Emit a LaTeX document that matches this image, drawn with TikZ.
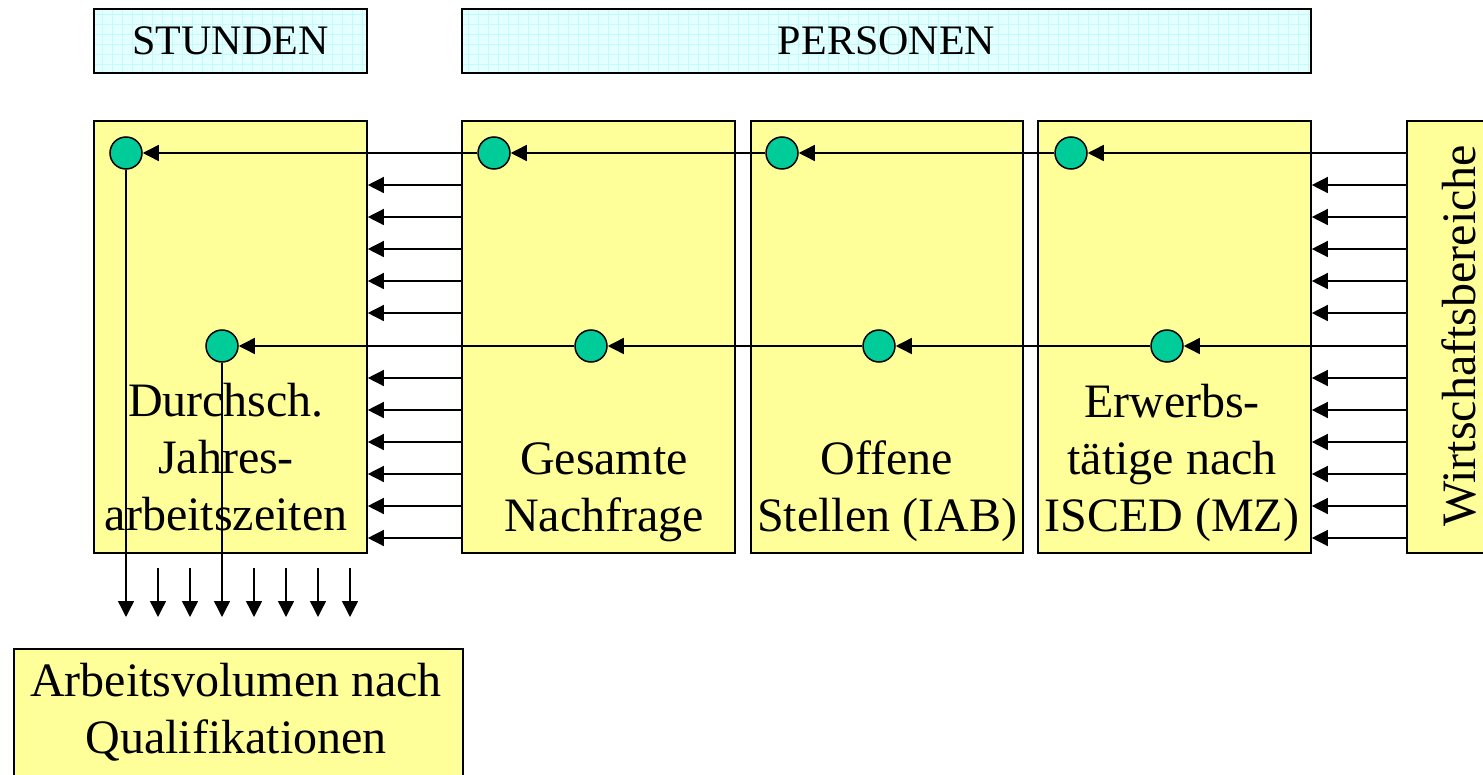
\documentclass[tikz,border=0pt]{standalone}
\usepackage{fontspec}
\setmainfont{Liberation Serif}
\usetikzlibrary{arrows.meta}
\definecolor{boxyellow}{HTML}{FFFF99}
\definecolor{dotgreen}{HTML}{00CC99}
\definecolor{headfill}{RGB}{228,255,255}
\definecolor{headgrid}{RGB}{195,250,250}
\begin{document}
\begin{tikzpicture}[x=1pt,y=-1pt,
  bigfont/.style={font=\fontsize{48}{57}\selectfont},
  headfont/.style={font=\fontsize{42}{50}\selectfont},
  ybox/.style={draw=black, line width=1.6pt, fill=boxyellow, inner sep=0pt, minimum height=432pt},
  hbox/.style={draw=black, line width=1.6pt, fill=headfill, inner sep=0pt, minimum height=64pt, headfont,
    path picture={\draw[headgrid, line width=0.6pt] (path picture bounding box.south west) grid[step=10pt] (path picture bounding box.north east);}},
  dot/.style={circle, draw=black, line width=1.5pt, fill=dotgreen, minimum size=32pt, inner sep=0pt},
  arr/.style={line width=1.4pt, -{Triangle[length=16pt,width=16pt]}},
  lbl/.style={bigfont, align=center, inner sep=0pt, anchor=base}
]
\useasboundingbox (0,0) rectangle (1483,775);

% header boxes
\node[hbox, minimum width=273pt] (hstd) at (230.5,41) {STUNDEN};
\node[hbox, minimum width=849pt] (hper) at (886.5,41) {PERSONEN};

% main boxes
\node[ybox, minimum width=273pt] (b1) at (230.5,337) {};
\node[ybox, minimum width=273pt] (b2) at (598.5,337) {};
\node[ybox, minimum width=272pt] (b3) at (887,337) {};
\node[ybox, minimum width=273pt] (b4) at (1174.5,337) {};
\node[ybox, minimum width=103pt] (b5) at (1458.5,337) {};
\node[ybox, minimum width=449pt, minimum height=151pt] (b6) at (238.5,724.5) {};

% box texts
\node[lbl] (t1) at (226,530) {Durchsch.\\Jahres-\\arbeitszeiten};
\node[lbl] (t2) at (604,531) {Gesamte\\Nachfrage};
\node[lbl] (t3) at (887,531) {Offene\\Stellen (IAB)};
\node[lbl] (t4) at (1172,531) {Erwerbs-\\tätige nach\\ISCED (MZ)};
\node[bigfont, inner sep=0pt, rotate=90] (t5) at (1458.5,336) {Wirtschaftsbereiche};
\node[lbl] (t6) at (236,753) {Arbeitsvolumen nach\\Qualifikationen};

% coordinates for the downward arrows
\coordinate (vstart) at (0,568);
\coordinate (vend) at (0,617);

% small arrows between boxes
\foreach \yy in {185,217,249,281,313,378,410,442,474,506,538}{
  \draw[arr] (b5.west |- 0,\yy) -- (b4.east |- 0,\yy);
  \draw[arr] (b2.west |- 0,\yy) -- (b1.east |- 0,\yy);
}

% circles
\node[dot] (c1) at (126,153) {};
\node[dot] (c2) at (494,153) {};
\node[dot] (c3) at (782,153) {};
\node[dot] (c4) at (1071,153) {};
\node[dot] (d1) at (222,346) {};
\node[dot] (d2) at (591,346) {};
\node[dot] (d3) at (879,346) {};
\node[dot] (d4) at (1167,346) {};

% row chains
\draw[arr] (b5.west |- c4) -- (c4);
\draw[arr] (c4) -- (c3);
\draw[arr] (c3) -- (c2);
\draw[arr] (c2) -- (c1);
\draw[arr] (b5.west |- d4) -- (d4);
\draw[arr] (d4) -- (d3);
\draw[arr] (d3) -- (d2);
\draw[arr] (d2) -- (d1);

% vertical arrows
\draw[arr] (c1) -- (c1 |- vend);
\draw[arr] (d1) -- (d1 |- vend);
\foreach \xx in {158,190,254,286,318,350}{
  \draw[arr] (\xx,0 |- vstart) -- (\xx,0 |- vend);
}
\end{tikzpicture}
\end{document}
